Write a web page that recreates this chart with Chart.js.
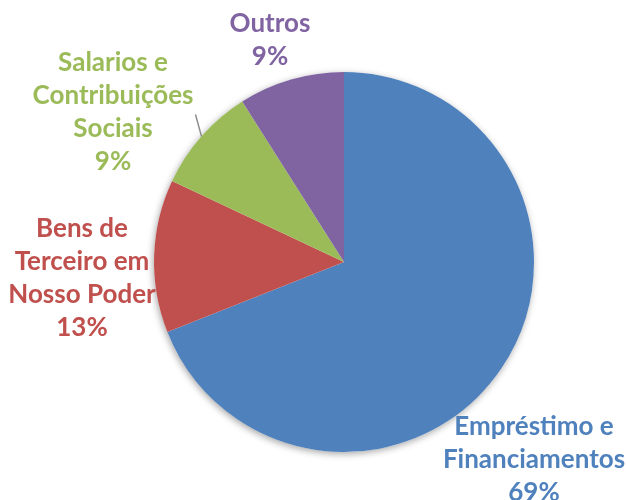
<!DOCTYPE html>
<html>
<head>
<meta charset="utf-8">
<script src="https://cdn.jsdelivr.net/npm/chart.js@4/dist/chart.umd.min.js"></script>
<style>
  html, body { margin: 0; padding: 0; background: #fff; }
  #wrap { width: 626px; height: 500px; position: relative; }
</style>
</head>
<body>
<div id="wrap"><canvas id="pie"></canvas></div>
<script>
// data
const categories = ['Empréstimo e Financiamentos', 'Bens de Terceiro em Nosso Poder', 'Salarios e Contribuições Sociais', 'Outros'];
const labelLines = [['Empréstimo e', 'Financiamentos'], ['Bens de', 'Terceiro em', 'Nosso Poder'], ['Salarios e', 'Contribuições', 'Sociais'], ['Outros']];
const shares = [69, 13, 9, 9];
const colors = ['#4F81BD', '#C0504D', '#9BBB59', '#8064A2'];

// label block centres, relative to the pie centre
const labelOffsets = [[190, 198], [-262, 16], [-231, -150], [-74, -222]];
const lineGap = 33;

// soft shadow under the whole pie
const pieShadow = {
  id: 'pieShadow',
  beforeDatasetsDraw(chart) {
    const arc = chart.getDatasetMeta(0).data[0];
    if (!arc) return;
    const { ctx } = chart;
    ctx.save();
    ctx.shadowColor = 'rgba(0,0,0,0.35)';
    ctx.shadowBlur = 7;
    ctx.shadowOffsetX = -1;
    ctx.shadowOffsetY = 2;
    ctx.fillStyle = '#fff';
    ctx.beginPath();
    ctx.arc(arc.x, arc.y, arc.outerRadius, 0, Math.PI * 2);
    ctx.fill();
    ctx.restore();
  }
};

// outside labels + leader line for the small green slice
const outsideLabels = {
  id: 'outsideLabels',
  afterDatasetsDraw(chart) {
    const { ctx } = chart;
    const meta = chart.getDatasetMeta(0);
    meta.data.forEach((arc, i) => {
      const lines = labelLines[i].concat([shares[i] + '%']);
      const cx = arc.x + labelOffsets[i][0];
      const cy = arc.y + labelOffsets[i][1];
      const top = cy - (lines.length - 1) * lineGap / 2;
      ctx.save();
      ctx.font = 'bold 26px Lato, "Open Sans", sans-serif';
      ctx.fillStyle = colors[i];
      ctx.textAlign = 'center';
      ctx.textBaseline = 'middle';
      lines.forEach((t, k) => ctx.fillText(t, cx, top + k * lineGap));
      ctx.restore();
    });

    // leader line: Salarios label to its slice
    const g = meta.data[2];
    const mid = (g.startAngle + g.endAngle) / 2;
    const ex = g.x + Math.cos(mid) * g.outerRadius;
    const ey = g.y + Math.sin(mid) * g.outerRadius;
    ctx.save();
    ctx.strokeStyle = '#8c8c8c';
    ctx.lineWidth = 1.5;
    ctx.beginPath();
    ctx.moveTo(ex, ey);
    ctx.lineTo(ex - 6, ey - 22);
    ctx.stroke();
    ctx.restore();
  }
};

new Chart(document.getElementById('pie'), {
  type: 'pie',
  data: {
    labels: categories,
    datasets: [{
      data: shares,
      backgroundColor: colors,
      borderWidth: 0
    }]
  },
  options: {
    responsive: true,
    maintainAspectRatio: false,
    animation: false,
    layout: { padding: { left: 154, right: 92, top: 72, bottom: 48 } },
    plugins: {
      legend: { display: false },
      tooltip: { enabled: false }
    }
  },
  plugins: [pieShadow, outsideLabels]
});
</script>
</body>
</html>
